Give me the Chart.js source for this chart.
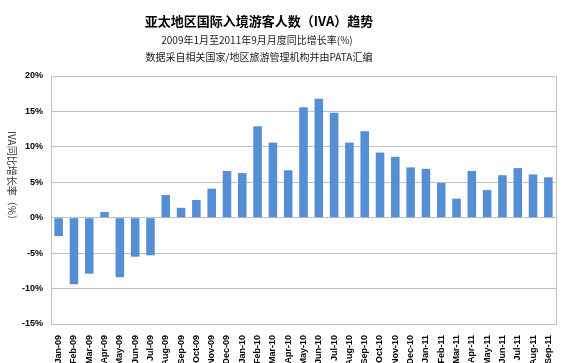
<!DOCTYPE html>
<html>
<head>
<meta charset="utf-8">
<script src="https://cdn.jsdelivr.net/npm/chart.js@4/dist/chart.umd.min.js"></script>
<style>
  body { margin: 0; background: #fff; }
  #wrap { width: 574px; height: 363px; position: relative; }
</style>
</head>
<body>
<div id="wrap"><canvas id="chart"></canvas></div>
<script>
const months = [
    "Jan-09", "Feb-09", "Mar-09", "Apr-09", "May-09", "Jun-09", "Jul-09", "Aug-09", "Sep-09", "Oct-09", "Nov-09", "Dec-09",
    "Jan-10", "Feb-10", "Mar-10", "Apr-10", "May-10", "Jun-10", "Jul-10", "Aug-10", "Sep-10", "Oct-10", "Nov-10", "Dec-10",
    "Jan-11", "Feb-11", "Mar-11", "Apr-11", "May-11", "Jun-11", "Jul-11", "Aug-11", "Sep-11"
];
const growth = [
    -2.6, -9.4, -7.9, 0.8, -8.4, -5.5, -5.3, 3.2, 1.4, 2.5, 4.1, 6.6,
    6.3, 12.9, 10.6, 6.7, 15.6, 16.8, 14.8, 10.6, 12.2, 9.2, 8.6, 7.1,
    6.9, 4.9, 2.7, 6.6, 3.9, 6.0, 7.0, 6.1, 5.7
];
const titleLines = [
    "亚太地区国际入境游客人数（IVA）趋势",
    "2009年1月至2011年9月月度同比增长率(%)",
    "数据采自相关国家/地区旅游管理机构并由PATA汇编"
];
const yTitle = "IVA同比增长率（%）";

const cjk = '"Noto Sans CJK SC", "Liberation Sans", sans-serif';

// titles, rotated y label and the plot frame
const extras = {
    id: "extras",
    afterDraw(chart) {
        const ctx = chart.ctx;
        const area = chart.chartArea;
        ctx.save();
        ctx.fillStyle = "#000";
        ctx.textAlign = "center";
        ctx.textBaseline = "middle";
        ctx.font = "bold 13px " + cjk;
        ctx.fillText(titleLines[0], 259, 21);
        ctx.fillStyle = "#222";
        ctx.font = "10px " + cjk;
        ctx.fillText(titleLines[1], 257, 40);
        ctx.fillText(titleLines[2], 259, 57);

        ctx.translate(12, 178);
        ctx.rotate(Math.PI / 2);
        ctx.fillStyle = "#333";
        ctx.font = "10px " + cjk;
        ctx.fillText(yTitle, 0, 0);
        ctx.restore();

        ctx.save();
        ctx.strokeStyle = "#c0c0c0";
        ctx.lineWidth = 1;
        ctx.strokeRect(Math.round(area.left) + 0.5, Math.round(area.top) + 0.5,
            Math.round(area.right - area.left), Math.round(area.bottom - area.top));
        ctx.restore();
    }
};

new Chart(document.getElementById("chart"), {
    type: "bar",
    data: {
        labels: months,
        datasets: [{
            data: growth,
            backgroundColor: "#558ed5",
            barPercentage: 0.56,
            categoryPercentage: 1
        }]
    },
    options: {
        responsive: true,
        maintainAspectRatio: false,
        animation: false,
        layout: { padding: { top: 76, right: 18, left: 0, bottom: 0 } },
        plugins: {
            legend: { display: false },
            tooltip: { enabled: false }
        },
        scales: {
            x: {
                grid: { display: false },
                border: { display: false },
                afterFit(axis) { axis.height = 39; },
                ticks: {
                    autoSkip: false,
                    maxRotation: 90,
                    minRotation: 90,
                    padding: 3,
                    color: "#000",
                    font: { family: "Liberation Sans", size: 9, weight: "bold" }
                }
            },
            y: {
                min: -15,
                max: 20,
                afterFit(axis) { axis.width = 51; },
                grid: { color: "#c0c0c0", drawTicks: false },
                border: { display: false },
                ticks: {
                    stepSize: 5,
                    padding: 8,
                    color: "#000",
                    font: { family: "Liberation Sans", size: 9, weight: "bold" },
                    callback: v => v + "%"
                }
            }
        }
    },
    plugins: [extras]
});
</script>
</body>
</html>
